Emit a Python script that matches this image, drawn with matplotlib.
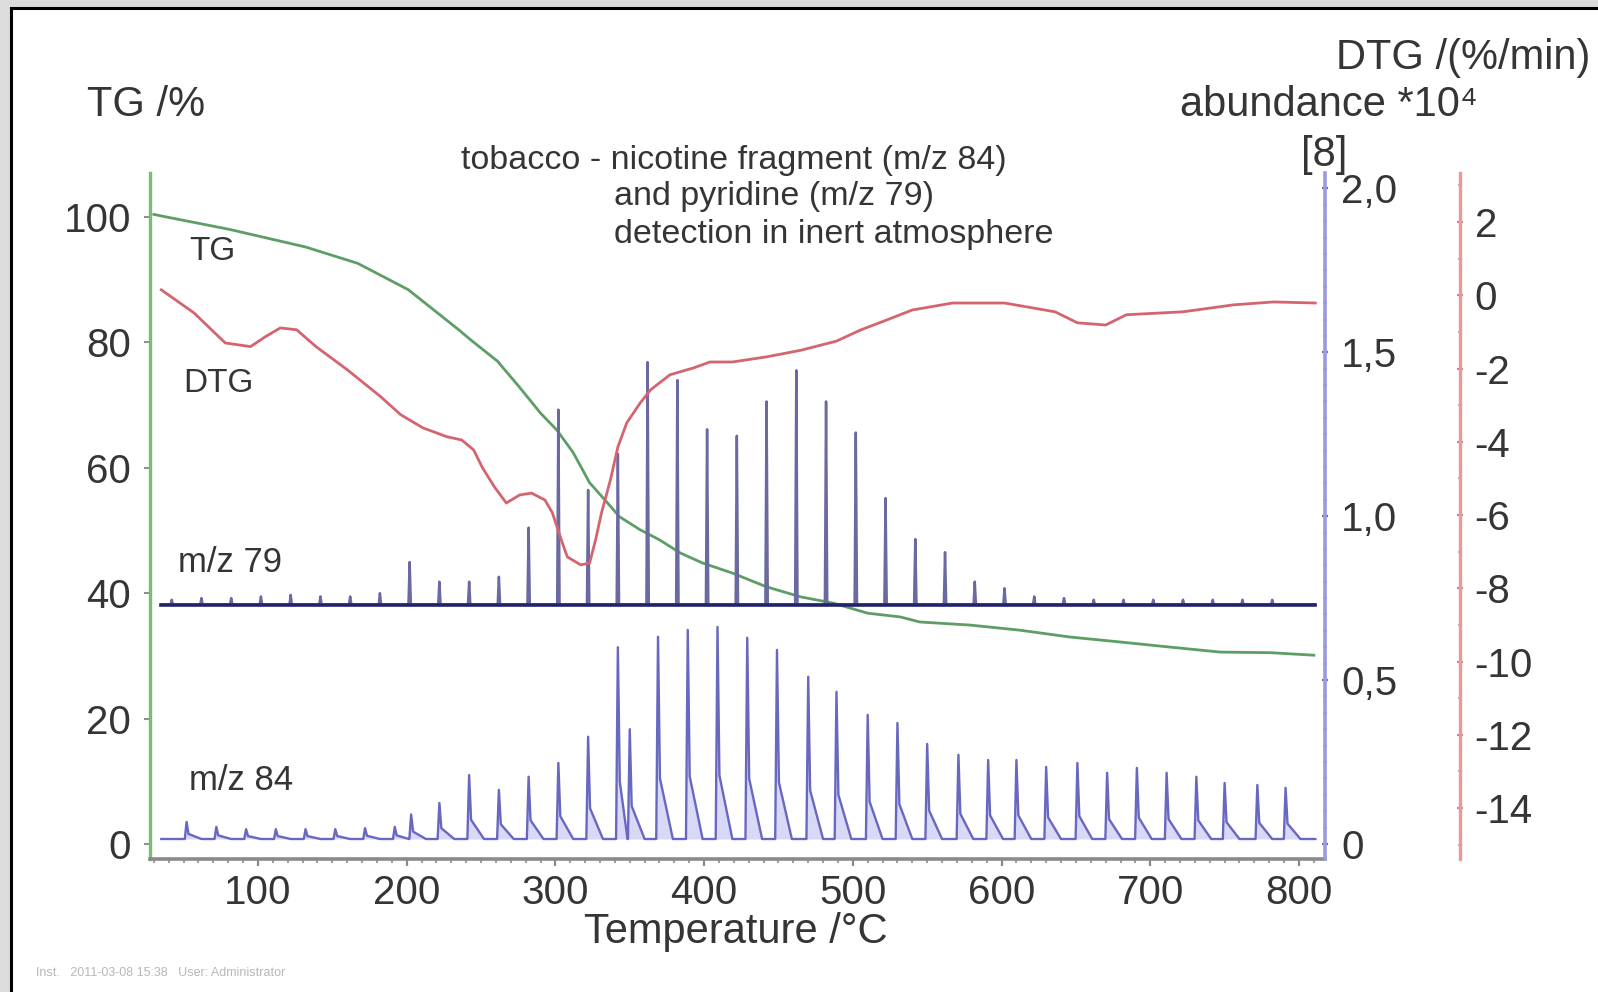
import matplotlib
matplotlib.use('Agg')
import matplotlib.pyplot as plt
from matplotlib.patches import Rectangle
from matplotlib.ticker import FixedLocator, MultipleLocator

plt.rcParams['font.family'] = ['Liberation Sans', 'DejaVu Sans']
plt.rcParams['axes.unicode_minus'] = False

# TG: residual mass /% vs temperature /°C
tg_T = [30, 36, 81, 132, 167, 201, 235, 243, 261, 276, 290, 301, 312, 323, 335,
        343, 357, 370, 384, 399, 419, 442, 465, 487, 510, 532, 545, 579, 612,
        646, 680, 713, 747, 781, 810]
tg_mass = [100.4, 100.1, 98.0, 95.2, 92.6, 88.4, 82.0, 80.4, 77.0, 72.8, 68.7,
           66.0, 62.4, 57.6, 54.4, 52.2, 50.1, 48.5, 46.4, 44.8, 43.2, 41.0,
           39.4, 38.4, 36.8, 36.2, 35.4, 34.9, 34.1, 33.0, 32.2, 31.4, 30.6,
           30.5, 30.1]

# DTG: mass loss rate /(%/min)
dtg_T = [35, 57, 78, 95, 105, 115, 126, 139, 160, 182, 196, 211, 227, 237, 245,
         251, 259, 267, 276, 284, 293, 298, 304, 308, 317, 323, 327, 331, 337,
         342, 348, 357, 364, 377, 393, 404, 419, 442, 465, 489, 505, 523, 540,
         567, 602, 636, 651, 670, 684, 722, 756, 783, 811]
dtg_rate = [0.15, -0.48, -1.30, -1.40, -1.13, -0.89, -0.94, -1.40, -2.03, -2.75,
            -3.26, -3.62, -3.86, -3.95, -4.22, -4.71, -5.23, -5.67, -5.45, -5.40,
            -5.59, -5.94, -6.68, -7.14, -7.36, -7.31, -6.68, -5.94, -5.04, -4.14,
            -3.48, -2.94, -2.58, -2.17, -1.98, -1.82, -1.82, -1.68, -1.50, -1.25,
            -0.95, -0.67, -0.40, -0.21, -0.21, -0.45, -0.75, -0.81, -0.53, -0.45,
            -0.26, -0.18, -0.21]

# MS range of the GC injections
ms_start, ms_end = 35, 811

# m/z 79 (pyridine), trace offset on the abundance axis
mz79_base = 0.73
mz79_T = [42, 62, 82, 102, 122, 142, 162, 182, 202, 222, 242, 262, 282, 302,
          322, 342, 362, 382, 402, 422, 442, 462, 482, 502, 522, 542, 562, 582,
          602, 622, 642, 662, 682, 702, 722, 742, 762, 782]
mz79_peak = [0.745, 0.75, 0.75, 0.755, 0.76, 0.755, 0.755, 0.765, 0.86, 0.80,
             0.80, 0.815, 0.965, 1.325, 1.08, 1.19, 1.47, 1.415, 1.265, 1.245,
             1.35, 1.445, 1.35, 1.255, 1.055, 0.93, 0.89, 0.80, 0.78, 0.755,
             0.75, 0.745, 0.745, 0.745, 0.745, 0.745, 0.745, 0.745]

# m/z 84 (nicotine fragment)
mz84_base = 0.015
mz84_T = [52, 72, 92, 112, 132, 152, 172, 192, 203, 222, 242, 262, 282, 302,
          322, 342, 350, 369, 389, 409, 429, 449, 470, 489, 510, 530, 550, 571,
          591, 610, 630, 651, 671, 691, 711, 731, 750, 772, 791]
mz84_peak = [0.067, 0.052, 0.045, 0.045, 0.045, 0.045, 0.048, 0.052, 0.09,
             0.125, 0.21, 0.165, 0.205, 0.247, 0.327, 0.60, 0.35, 0.632, 0.653,
             0.662, 0.629, 0.592, 0.51, 0.464, 0.394, 0.369, 0.305, 0.272,
             0.256, 0.256, 0.235, 0.247, 0.217, 0.232, 0.217, 0.205, 0.186,
             0.18, 0.171]

temp_ticks = [100, 200, 300, 400, 500, 600, 700, 800]
tg_ticks = [0, 20, 40, 60, 80, 100]
abund_ticks = [0, 0.5, 1.0, 1.5, 2.0]
abund_labels = ['0', '0,5', '1,0', '1,5', '2,0']
dtg_ticks = [2, 0, -2, -4, -6, -8, -10, -12, -14]

TEXT = '#353535'
W, H = 1598, 992


def peak_trace(centers, peaks, base, start, end, rise, tail, tail_frac=0.0, tail_len=0.0):
    """Polyline of GC peaks sitting on a flat baseline."""
    xs, ys = [start], [base]
    for i, (t, p) in enumerate(zip(centers, peaks)):
        xs += [t - rise, t]
        ys += [base, p]
        if tail_len:
            nxt = centers[i + 1] - rise - 0.3 if i + 1 < len(centers) else end
            xs += [t + tail, min(t + tail_len, nxt)]
            ys += [base + tail_frac * (p - base), base]
        else:
            xs.append(t + tail)
            ys.append(base)
    xs.append(end)
    ys.append(base)
    return xs, ys


def fx(x):
    return x / W


def fy(y):
    return 1 - y / H


fig = plt.figure(figsize=(15.98, 9.92), dpi=100)
fig.patch.set_facecolor('#dcdcdc')
fig.patches.append(Rectangle((fx(11), -0.05), 1.2, fy(8.5) + 0.05, transform=fig.transFigure,
                             facecolor='white', edgecolor='black', lw=2.2, zorder=-1))

ax = fig.add_axes([fx(150), fy(859), fx(1325) - fx(150), fy(173) - fy(859)])
ax.set_facecolor('none')
ax_ab = ax.twinx()
ax_dtg = ax.twinx()

# TG
ax.plot(tg_T, tg_mass, color='#5e9e66', lw=2.0, zorder=3)
ax.set_xlim(27.4, 817.5)
ax.set_ylim(-2.4, 107.0)

# MS traces
x84, y84 = peak_trace(mz84_T, mz84_peak, mz84_base, ms_start, ms_end,
                      rise=1.2, tail=1.3, tail_frac=0.3, tail_len=10)
ax_ab.fill_between(x84, y84, mz84_base, color='#c8c8f4', alpha=0.7, lw=0)
ax_ab.plot(x84, y84, color='#6868c0', lw=1.7)

x79, y79 = peak_trace(mz79_T, mz79_peak, mz79_base, ms_start, ms_end, rise=0.8, tail=0.8)
ax_ab.plot(x79, y79, color='#6a6aa0', lw=1.8)
ax_ab.plot([ms_start, ms_end], [mz79_base, mz79_base], color='#22226e', lw=2.6)
ax_ab.set_ylim(-0.046, 2.047)

# DTG
ax_dtg.plot(dtg_T, dtg_rate, color='#d4646f', lw=2.0)
ax_dtg.set_ylim(-15.39, 3.34)

# spines
for s in ['top', 'right']:
    ax.spines[s].set_visible(False)
ax.spines['left'].set_color('#78bd78')
ax.spines['left'].set_linewidth(2.4)
ax.spines['bottom'].set_color('#8a8a8a')
ax.spines['bottom'].set_linewidth(2.6)

for a in (ax_ab, ax_dtg):
    for s in ['top', 'left', 'bottom']:
        a.spines[s].set_visible(False)
ax_ab.spines['right'].set_color('#9a9ae0')
ax_ab.spines['right'].set_linewidth(2.6)
ax_dtg.spines['right'].set_position(('axes', (1460 - 150) / (1325 - 150)))
ax_dtg.spines['right'].set_color('#e89a9a')
ax_dtg.spines['right'].set_linewidth(2.4)

# ticks
ax.xaxis.set_major_locator(FixedLocator(temp_ticks))
ax.xaxis.set_minor_locator(MultipleLocator(10))
ax.tick_params(axis='x', which='major', direction='out', length=5, width=1.6,
               color='#8a8a8a', labelsize=29, labelcolor=TEXT, pad=6)
ax.tick_params(axis='x', which='minor', direction='out', length=3, width=1.2, color='#8a8a8a')

ax.yaxis.set_major_locator(FixedLocator(tg_ticks))
ax.tick_params(axis='y', direction='out', length=4.5, width=1.5, color='#909090',
               labelsize=29, labelcolor=TEXT, pad=9)

ax_ab.yaxis.set_major_locator(FixedLocator(abund_ticks))
ax_ab.set_yticklabels(abund_labels)
ax_ab.yaxis.set_minor_locator(MultipleLocator(0.05))
ax_ab.tick_params(axis='y', which='major', direction='inout', length=5, width=1.6,
                  color='#6a6ab0', labelsize=29, labelcolor=TEXT, pad=9)
ax_ab.tick_params(axis='y', which='minor', direction='inout', length=3, width=1.2, color='#7a7ab8')

ax_dtg.yaxis.set_major_locator(FixedLocator(dtg_ticks))
ax_dtg.yaxis.set_minor_locator(MultipleLocator(1))
ax_dtg.tick_params(axis='y', which='major', direction='inout', length=5, width=1.6,
                   color='#d08080', labelsize=29, labelcolor=TEXT, pad=8)
ax_dtg.tick_params(axis='y', which='minor', direction='inout', length=3, width=1.2, color='#d89090')

# axis titles and annotations
fig.text(fx(87), fy(105), 'TG /%', fontsize=30, color=TEXT, ha='left', va='center')
fig.text(fx(1590), fy(58), 'DTG /(%/min)', fontsize=30, color=TEXT, ha='right', va='center')
fig.text(fx(1478), fy(105), 'abundance *10⁴', fontsize=30, color=TEXT, ha='right', va='center')
fig.text(fx(1347), fy(155), '[8]', fontsize=30, color=TEXT, ha='right', va='center')
fig.text(fx(736), fy(932), 'Temperature /°C', fontsize=30, color=TEXT, ha='center', va='center')

fig.text(fx(461), fy(160), 'tobacco - nicotine fragment (m/z 84)', fontsize=24.5, color=TEXT,
         ha='left', va='center')
fig.text(fx(614), fy(197), 'and pyridine (m/z 79)', fontsize=24.5, color=TEXT, ha='left', va='center')
fig.text(fx(614), fy(235), 'detection in inert atmosphere', fontsize=24.5, color=TEXT,
         ha='left', va='center')

fig.text(fx(189), fy(251), 'TG', fontsize=24, color=TEXT, ha='left', va='center')
fig.text(fx(183), fy(384), 'DTG', fontsize=24, color=TEXT, ha='left', va='center')
fig.text(fx(178), fy(562), 'm/z 79', fontsize=25, color=TEXT, ha='left', va='center')
fig.text(fx(189), fy(781), 'm/z 84', fontsize=25, color=TEXT, ha='left', va='center')

fig.text(fx(36), fy(973), 'Inst.   2011-03-08 15:38   User: Administrator', fontsize=9,
         color='#b8b8b8', ha='left', va='center')

fig.savefig('out.png', dpi=100)
